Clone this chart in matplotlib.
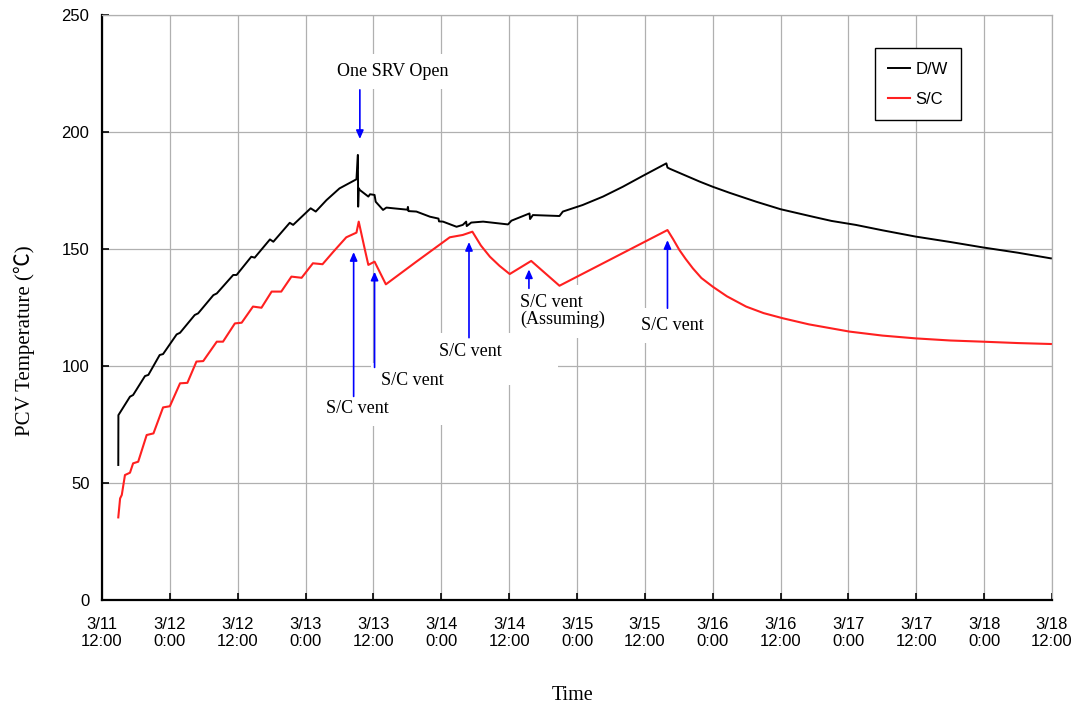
import matplotlib
matplotlib.use('Agg')
import matplotlib.pyplot as plt
from matplotlib.patches import Rectangle

# time axis: hours since 3/11 12:00
tick_hours = list(range(0, 169, 12))
tick_labels = ['3/11\n12:00', '3/12\n0:00', '3/12\n12:00', '3/13\n0:00', '3/13\n12:00',
               '3/14\n0:00', '3/14\n12:00', '3/15\n0:00', '3/15\n12:00', '3/16\n0:00',
               '3/16\n12:00', '3/17\n0:00', '3/17\n12:00', '3/18\n0:00', '3/18\n12:00']

# D/W temperature
dw_hours = [2.88, 2.9, 4.95, 5.5, 7.6, 8.2, 10.2, 10.8, 13.2, 13.8, 16.4, 17.0, 19.7, 20.3,
            23.2, 23.8, 26.4, 27.0, 29.7, 30.3, 33.2, 33.8, 36.9, 37.8, 39.7, 42.0, 45.0,
            45.25, 45.3, 45.4, 45.6, 47.1, 47.4, 48.2, 48.4, 49.7, 50.3, 51.5, 54.0, 54.1,
            54.2, 55.6, 58.0, 59.5, 59.6, 60.3, 62.7, 63.8, 64.4, 64.5, 65.3, 67.4, 71.8,
            72.4, 75.6, 75.7, 76.2, 80.9, 81.5, 85.0, 88.6, 92.1, 95.6, 99.8, 100.0, 100.4,
            103.0, 105.7, 108.0, 111.0, 115.7, 120.0, 125.7, 129.0, 133.3, 138.0, 143.9,
            150.0, 155.7, 162.0, 167.8]
dw_temp = [57.7, 79.0, 86.9, 87.6, 95.7, 96.2, 104.7, 105.1, 113.5, 114.2, 121.8, 122.5,
           130.3, 131.0, 138.9, 138.9, 146.7, 146.3, 154.1, 153.1, 161.2, 160.3, 167.4, 166.0,
           170.9, 175.9, 179.8, 190.2, 168.1, 176.0, 175.2, 172.4, 173.4, 173.1, 170.2, 166.7,
           167.7, 167.4, 166.8, 168.0, 166.2, 166.0, 163.8, 163.0, 161.8, 161.7, 159.5, 160.3,
           161.7, 159.8, 161.3, 161.7, 160.5, 162.1, 165.2, 162.8, 164.5, 164.1, 166.0, 168.8,
           172.4, 176.6, 181.2, 186.6, 184.8, 184.3, 181.6, 178.8, 176.6, 174.0, 170.2, 167.0,
           163.8, 162.0, 160.3, 158.0, 155.3, 153.0, 150.7, 148.4, 146.0]

# S/C temperature
sc_hours = [2.88, 3.2, 3.5, 4.06, 4.95, 5.5, 6.4, 7.9, 9.1, 10.8, 12.0, 13.8, 15.1, 16.7,
            17.9, 20.3, 21.4, 23.5, 24.7, 26.7, 28.2, 30.0, 31.7, 33.5, 35.3, 37.3, 39.0,
            40.9, 43.2, 45.0, 45.4, 46.5, 47.1, 48.2, 50.2, 55.6, 61.5, 63.8, 65.5, 67.0,
            68.6, 70.3, 72.1, 75.9, 80.9, 100.0, 101.0, 102.1, 103.2, 104.5, 106.0, 108.0,
            110.5, 113.9, 117.0, 120.4, 125.0, 132.2, 138.0, 143.9, 150.0, 155.7, 162.0, 167.8]
sc_temp = [35.3, 43.4, 44.9, 53.4, 54.4, 58.4, 59.1, 70.5, 71.2, 82.3, 82.8, 92.6, 92.8,
           101.9, 102.1, 110.4, 110.4, 118.2, 118.5, 125.4, 124.9, 131.8, 131.8, 138.2, 137.7,
           143.9, 143.5, 148.8, 155.0, 157.0, 161.7, 149.6, 143.2, 144.6, 134.9, 144.6, 155.0,
           156.0, 157.4, 151.5, 146.7, 142.8, 139.3, 144.9, 134.3, 158.1, 154.2, 149.6, 145.8,
           141.7, 137.6, 133.9, 129.8, 125.4, 122.6, 120.4, 117.8, 114.7, 113.0, 111.8, 110.9,
           110.4, 109.8, 109.4]

# event notes
note_texts = ['One SRV Open', 'S/C vent', 'S/C vent', 'S/C vent', 'S/C vent\n(Assuming)', 'S/C vent']
note_x = [51.5, 45.1, 54.8, 65.1, 74.0, 100.8]
note_y = [226, 82, 94, 106.4, 123.5, 117.5]
note_ha = ['center', 'center', 'center', 'center', 'left', 'center']
arrow_x = [45.6, 44.5, 48.2, 64.9, 75.5, 100.0]
arrow_tail = [218, 87, 99.4, 112.1, 133.2, 124.7]
arrow_head = [197, 148.7, 140.3, 153, 141.3, 153.8]

serif = ['Liberation Serif', 'Noto Sans CJK JP', 'DejaVu Serif']
sans = ['Liberation Sans', 'DejaVu Sans']

fig = plt.figure(figsize=(10.79, 7.09), dpi=100)
ax = fig.add_axes([102 / 1079, 109 / 709, 950 / 1079, 585 / 709])

ax.plot(dw_hours, dw_temp, color='black', lw=1.4, label='D/W', zorder=3)
ax.plot(sc_hours, sc_temp, color='#ff2020', lw=1.5, label='S/C', zorder=3)

# white boxes behind the notes (hide the grid like the original)
ax.add_patch(Rectangle((56.2, 91.9), 24.4, 21.3, facecolor='white', edgecolor='none', zorder=1))
ax.add_patch(Rectangle((56.2, 74.8), 5.3, 17.5, facecolor='white', edgecolor='none', zorder=1))

for i in range(len(note_texts)):
    ax.annotate('', xy=(arrow_x[i], arrow_head[i]), xytext=(arrow_x[i], arrow_tail[i]),
                arrowprops=dict(arrowstyle='-|>,head_length=0.5,head_width=0.22', color='blue',
                                lw=1.2, shrinkA=0, shrinkB=0), zorder=2.5)
    ax.text(note_x[i], note_y[i], note_texts[i], ha=note_ha[i], va='center', fontsize=13,
            family=serif, linespacing=1.05, zorder=1.5,
            bbox=dict(boxstyle='square,pad=0.5', facecolor='white', edgecolor='none'))

ax.set_xlim(0, 168)
ax.set_ylim(0, 250)
ax.set_xticks(tick_hours)
ax.set_xticklabels(tick_labels)
ax.set_yticks(range(0, 251, 50))
ax.tick_params(direction='in', length=5, width=1.2, labelsize=12, color='black')
ax.tick_params(axis='x', pad=12)
ax.tick_params(axis='y', pad=9)
for lab in ax.get_xticklabels() + ax.get_yticklabels():
    lab.set_family(sans)

ax.set_axisbelow(True)
ax.grid(True, color='#b0b0b0', lw=0.9)
ax.spines['left'].set_linewidth(1.6)
ax.spines['bottom'].set_linewidth(1.6)
ax.spines['top'].set_color('#b0b0b0')
ax.spines['right'].set_color('#b0b0b0')
ax.spines['top'].set_linewidth(0.9)
ax.spines['right'].set_linewidth(0.9)

ax.set_xlabel('Time', fontsize=14.5, family=serif)
ax.set_ylabel('PCV Temperature (℃)', fontsize=15, family=serif)
ax.xaxis.set_label_coords(0.495, -0.147)
ax.yaxis.set_label_coords(-0.071, 0.444)

leg = ax.legend(loc='center', bbox_to_anchor=(0.859, 0.882), fancybox=False, framealpha=1,
                edgecolor='black', borderpad=0.8, labelspacing=0.9, handlelength=1.3,
                handletextpad=0.35, prop={'family': sans, 'size': 12})
leg.get_frame().set_linewidth(1.0)

plt.savefig('out.png', dpi=100)
